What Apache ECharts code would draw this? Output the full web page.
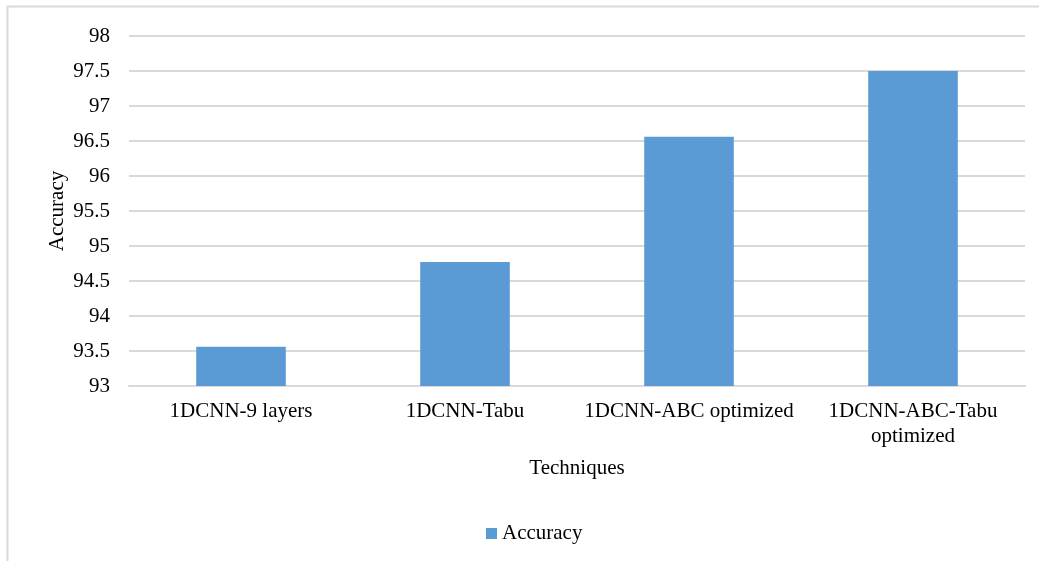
<!DOCTYPE html>
<html>
<head>
<meta charset="utf-8">
<script src="https://cdn.jsdelivr.net/npm/echarts@6/dist/echarts.min.js"></script>
<style>
  html, body { margin: 0; padding: 0; background: #fff; }
  #main { width: 1039px; height: 561px; }
</style>
</head>
<body>
<div id="main"></div>
<script>
const techniques = ['1DCNN-9 layers', '1DCNN-Tabu', '1DCNN-ABC optimized', '1DCNN-ABC-Tabu\noptimized'];
const accuracy = [93.56, 94.77, 96.56, 97.5];

const font = 'Liberation Serif';
const chart = echarts.init(document.getElementById('main'));

chart.setOption({
  animation: false,
  textStyle: { fontFamily: font },
  graphic: [{
    type: 'rect',
    shape: { x: 7.5, y: 6.5, width: 1100, height: 700 },
    style: { fill: 'none', stroke: '#d9d9d9', lineWidth: 2 },
    silent: true
  }],
  grid: { left: 129, right: 14, top: 36, bottom: 175 },
  legend: {
    bottom: 12,
    left: 481,
    itemWidth: 11,
    itemHeight: 11,
    icon: 'rect',
    itemGap: 4,
    textStyle: { fontFamily: font, fontSize: 21, color: '#000' }
  },
  xAxis: {
    type: 'category',
    data: techniques,
    name: 'Techniques',
    nameLocation: 'middle',
    nameGap: 72,
    nameTextStyle: { fontFamily: font, fontSize: 21, color: '#000' },
    axisTick: { show: false },
    axisLine: { lineStyle: { color: '#d9d9d9', width: 2 } },
    axisLabel: { fontFamily: font, fontSize: 21, color: '#000', margin: 13, lineHeight: 25, interval: 0 }
  },
  yAxis: {
    type: 'value',
    min: 93,
    max: 98,
    interval: 0.5,
    name: 'Accuracy',
    nameLocation: 'middle',
    nameGap: 61,
    nameMoveOverlap: false,
    nameTextStyle: { fontFamily: font, fontSize: 21, color: '#000' },
    axisLine: { show: false },
    axisTick: { show: false },
    splitLine: { lineStyle: { color: '#d9d9d9', width: 2 } },
    axisLabel: { fontFamily: font, fontSize: 21, color: '#000', margin: 19 }
  },
  series: [{
    name: 'Accuracy',
    type: 'bar',
    data: accuracy,
    barWidth: '40%',
    itemStyle: { color: '#5b9bd5' }
  }]
});
</script>
</body>
</html>
